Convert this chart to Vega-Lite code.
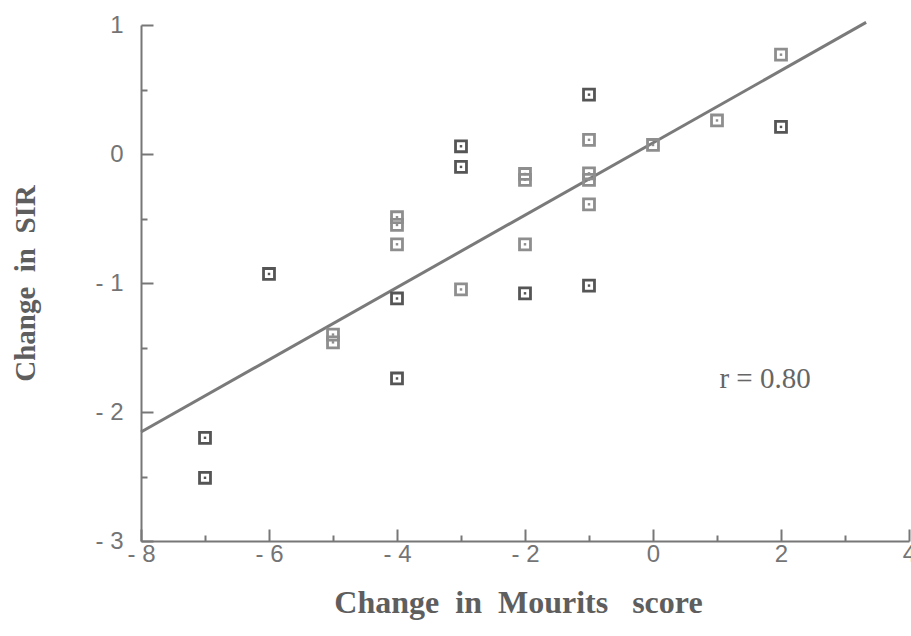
{
  "$schema": "https://vega.github.io/schema/vega-lite/v6.json",
  "width": 768,
  "height": 516,
  "autosize": {"type": "none"},
  "padding": {"left": 141, "top": 25, "right": 2, "bottom": 95},
  "background": "white",
  "config": {"view": {"stroke": null}},
  "datasets": {
    "points": [
      {"x": -7, "y": -2.2, "group": "dark"},
      {"x": -7, "y": -2.51, "group": "dark"},
      {"x": -6, "y": -0.93, "group": "dark"},
      {"x": -5, "y": -1.4, "group": "light"},
      {"x": -5, "y": -1.46, "group": "light"},
      {"x": -4, "y": -0.49, "group": "light"},
      {"x": -4, "y": -0.55, "group": "light"},
      {"x": -4, "y": -0.7, "group": "light"},
      {"x": -4, "y": -1.12, "group": "dark"},
      {"x": -4, "y": -1.74, "group": "dark"},
      {"x": -3, "y": 0.06, "group": "dark"},
      {"x": -3, "y": -0.1, "group": "dark"},
      {"x": -3, "y": -1.05, "group": "light"},
      {"x": -2, "y": -0.155, "group": "light"},
      {"x": -2, "y": -0.2, "group": "light"},
      {"x": -2, "y": -0.7, "group": "light"},
      {"x": -2, "y": -1.08, "group": "dark"},
      {"x": -1, "y": 0.46, "group": "dark"},
      {"x": -1, "y": 0.11, "group": "light"},
      {"x": -1, "y": -0.15, "group": "light"},
      {"x": -1, "y": -0.2, "group": "light"},
      {"x": -1, "y": -0.39, "group": "light"},
      {"x": -1, "y": -1.02, "group": "dark"},
      {"x": 0, "y": 0.07, "group": "light"},
      {"x": 1, "y": 0.26, "group": "light"},
      {"x": 2, "y": 0.77, "group": "light"},
      {"x": 2, "y": 0.21, "group": "dark"}
    ],
    "fit": [
      {"x": -8, "y": -2.155},
      {"x": 3.33, "y": 1.02}
    ],
    "note": [
      {"x": 1.75, "y": -1.745, "label": "r = 0.80"}
    ]
  },
  "encoding": {
    "x": {
      "field": "x",
      "type": "quantitative",
      "scale": {"domain": [-8, 4], "nice": false, "zero": false},
      "axis": {
        "title": "Change\u00a0 in\u00a0 Mourits\u00a0\u00a0\u00a0score",
        "titleFont": "Liberation Serif",
        "titleFontWeight": "bold",
        "titleFontSize": 32,
        "titleColor": "#5e5e5e",
        "titlePadding": 15,
        "titleX": 377,
        "values": [-8, -7, -6, -5, -4, -3, -2, -1, 0, 1, 2, 3, 4],
        "labelExpr": "datum.value % 2 === 0 ? (datum.value < 0 ? '- ' + abs(datum.value) : '' + datum.value) : ''",
        "labelFont": "Liberation Sans",
        "labelFontSize": 24,
        "labelColor": "#747474",
        "labelPadding": 13,
        "labelFlush": false,
        "labelOverlap": false,
        "domainColor": "#777777",
        "domainWidth": 2,
        "tickColor": "#777777",
        "tickWidth": 2,
        "tickSize": {"condition": {"test": "datum.value % 2 === 0", "value": -12}, "value": -6},
        "grid": false
      }
    },
    "y": {
      "field": "y",
      "type": "quantitative",
      "scale": {"domain": [-3, 1], "nice": false, "zero": false},
      "axis": {
        "title": "Change\u00a0 in\u00a0 SIR",
        "titleFont": "Liberation Serif",
        "titleFontWeight": "bold",
        "titleFontSize": 29,
        "titleColor": "#5e5e5e",
        "titlePadding": 54,
        "values": [-3, -2.5, -2, -1.5, -1, -0.5, 0, 0.5, 1],
        "labelExpr": "datum.value % 1 === 0 ? (datum.value < 0 ? '- ' + abs(datum.value) : '' + datum.value) : ''",
        "labelFont": "Liberation Sans",
        "labelFontSize": 24,
        "labelColor": "#747474",
        "labelPadding": 30,
        "labelFlush": false,
        "labelOverlap": false,
        "domainColor": "#777777",
        "domainWidth": 2,
        "tickColor": "#777777",
        "tickWidth": 2,
        "tickSize": {"condition": {"test": "datum.value % 1 === 0", "value": -12}, "value": -6},
        "grid": false
      }
    }
  },
  "layer": [
    {
      "data": {"name": "fit"},
      "mark": {"type": "line", "color": "#7a7a7a", "strokeWidth": 3}
    },
    {
      "data": {"name": "points"},
      "mark": {"type": "point", "shape": "square", "size": 120, "strokeWidth": 2.8, "filled": false, "opacity": 1},
      "encoding": {
        "color": {"field": "group", "type": "nominal", "scale": {"domain": ["dark", "light"], "range": ["#555555", "#8e8e8e"]}, "legend": null}
      }
    },
    {
      "data": {"name": "points"},
      "mark": {"type": "point", "shape": "square", "size": 6, "filled": true, "opacity": 1},
      "encoding": {
        "color": {"field": "group", "type": "nominal", "legend": null}
      }
    },
    {
      "data": {"name": "note"},
      "mark": {"type": "text", "font": "Liberation Serif", "fontSize": 29, "color": "#666666", "align": "center", "baseline": "middle"},
      "encoding": {"text": {"field": "label"}}
    }
  ]
}
